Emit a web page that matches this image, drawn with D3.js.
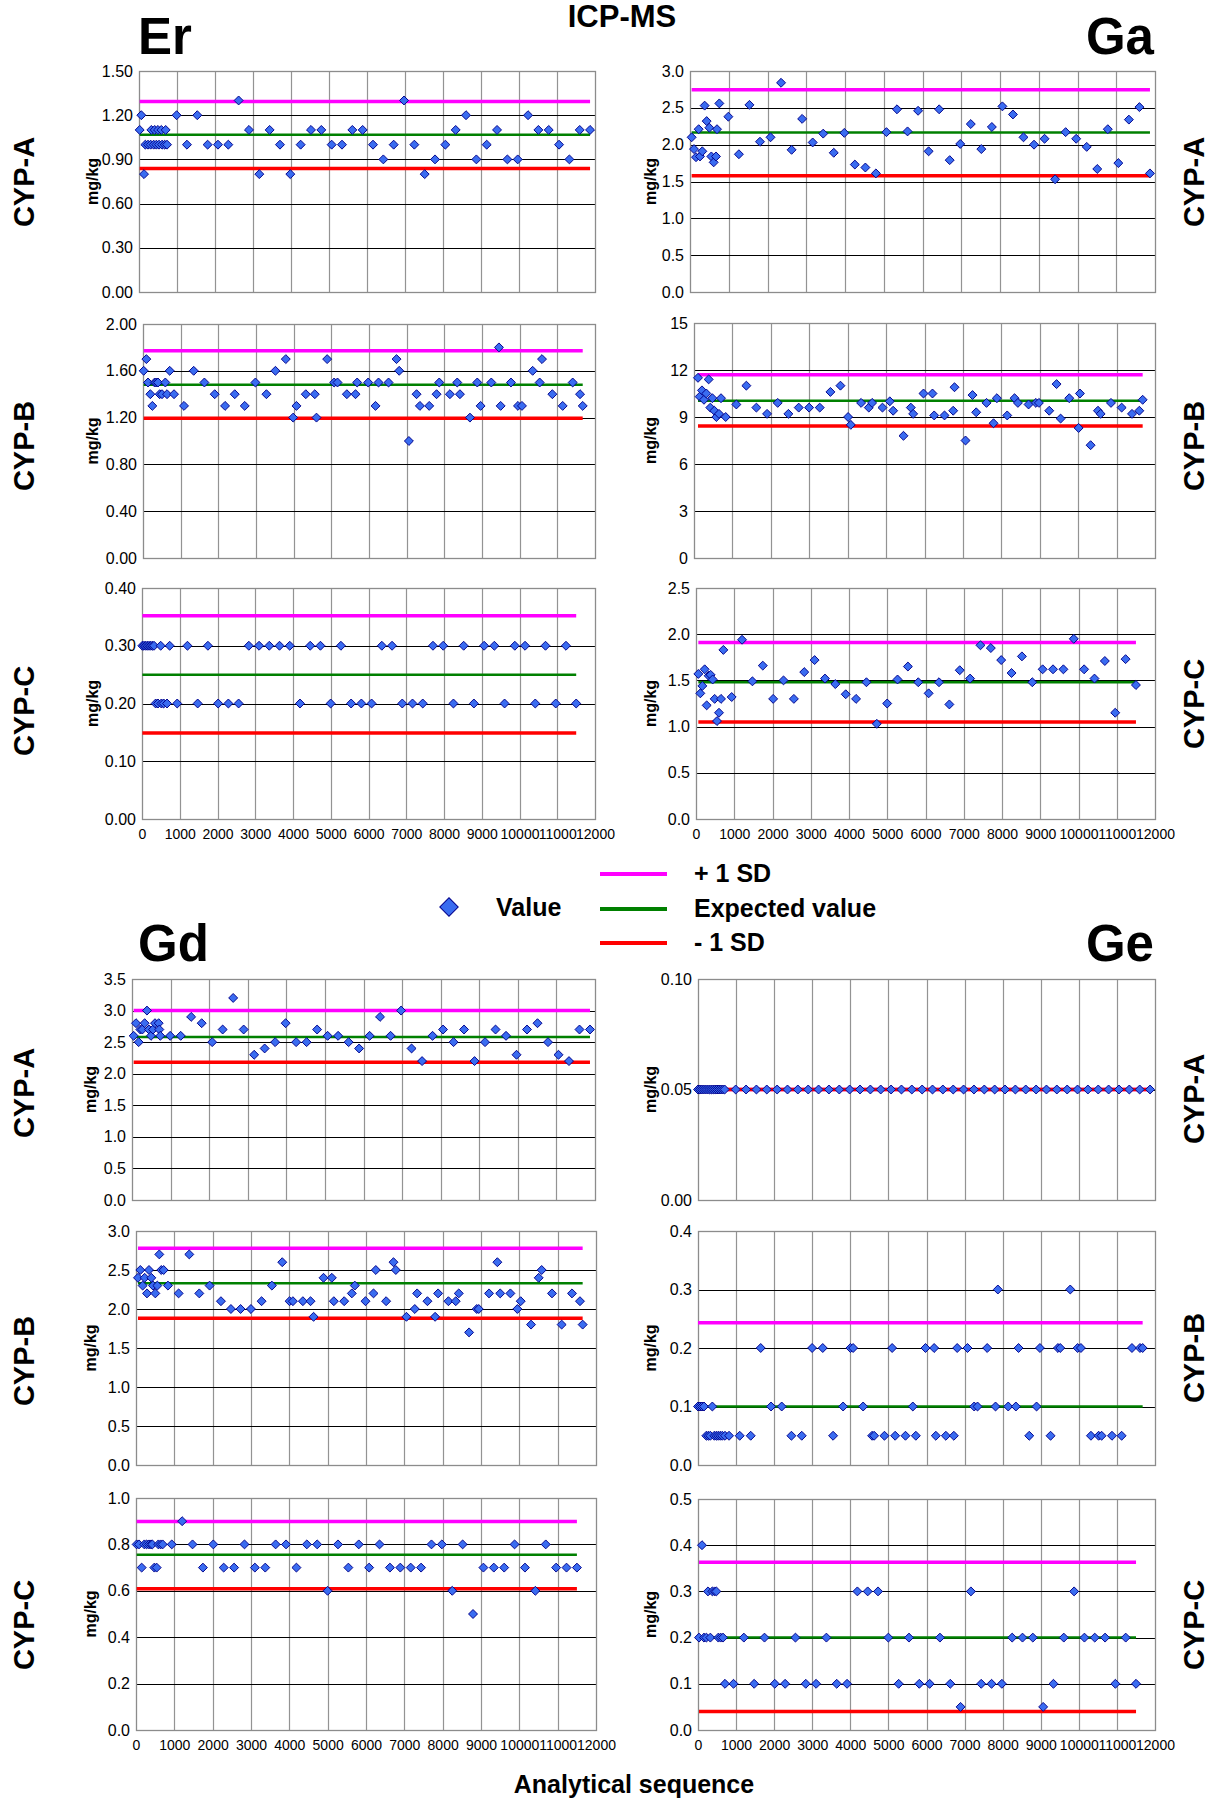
<!DOCTYPE html>
<html><head><meta charset="utf-8">
<script src="https://cdn.jsdelivr.net/npm/d3@7"></script>
<style>
body{margin:0;background:#fff}
svg{display:block}
text{font-family:"Liberation Sans",Arial,Helvetica,sans-serif}
</style>
</head><body>
<svg id="c" width="1223" height="1804"></svg>
<script>
// ---------------- DATA ----------------
const xTicks = [0,1000,2000,3000,4000,5000,6000,7000,8000,9000,10000,11000,12000];

// shared analytical sequence positions (regular runs)
const seqA = [990,1262,1534,1806,2078,2350,2622,2894,3166,3438,3710,3982,4254,4526,4798,5070,5342,5614,5886,6158,6430,6702,6974,7246,7518,7790,8062,8334,8606,8878,9150,9422,9694,9966,10238,10510,10782,11054,11326,11598,11870];
const seqC = [933,1204,1475,1746,2017,2288,2559,2830,3101,3372,3643,3914,4185,4456,4727,4998,5269,5540,5811,6082,6353,6624,6895,7166,7437,7708,7979,8250,8521,8792,9063,9334,9605,9876,10147,10418,10689,10960,11231,11502];

// ---- Er ----
const erA_cx = [18,61,132,167,237,307,386,457,527,606,676,737,325,413,500,588,702];
const erA_cy = [1.1,1.2,0.8,1.0,1.0,1.0,1.0,1.0,1.0,1.0,1.0,1.0,1.1,1.1,1.1,1.1,1.1];
const erA_y = [1.2,1.0,1.2,1.0,1.0,1.0,1.3,1.1,0.8,1.1,1.0,0.8,1.0,1.1,1.1,1.0,1.0,1.1,1.1,1.0,0.9,1.0,1.3,1.0,0.8,0.9,1.0,1.1,1.2,0.9,1.0,1.1,0.9,0.9,1.2,1.1,1.1,1.0,0.9,1.1,1.1];
const erA_sd = [1.293,1.067,0.839];
const erA_ticks = [0,0.3,0.6,0.9,1.2,1.5];

const erB_x = [18,89,133,195,248,310,354,399,443,505,593,638,709,824,1089,1346,1630,1904,2179,2436,2701,2985,3277,3516,3791,3986,4074,4322,4561,4606,4889,5075,5164,5412,5642,5686,5978,6173,6253,6519,6731,6802,7059,7263,7351,7599,7794,7865,8148,8343,8414,8680,8875,8963,9247,9450,9495,9769,9955,10061,10345,10531,10593,10868,11142,11408,11603,11674];
const erB_y = [1.6,1.7,1.5,1.4,1.3,1.5,1.5,1.5,1.4,1.4,1.5,1.4,1.6,1.4,1.3,1.6,1.5,1.4,1.3,1.4,1.3,1.5,1.4,1.6,1.7,1.2,1.3,1.4,1.4,1.2,1.7,1.5,1.5,1.4,1.4,1.5,1.5,1.3,1.5,1.5,1.7,1.6,1.0,1.4,1.3,1.3,1.4,1.5,1.4,1.5,1.4,1.2,1.5,1.3,1.5,1.8,1.3,1.5,1.3,1.3,1.6,1.5,1.7,1.4,1.3,1.5,1.4,1.3];
const erB_sd = [1.772,1.481,1.194];
const erB_ticks = [0,0.4,0.8,1.2,1.6,2.0];

const erC_cx = [9,53,97,141,186,230,274,318,495,733,362,424,513,574,663];
const erC_cy = [0.3,0.3,0.3,0.3,0.3,0.3,0.3,0.3,0.3,0.3,0.2,0.2,0.2,0.2,0.2];
const erC_y = [0.2,0.3,0.2,0.3,0.2,0.2,0.2,0.3,0.3,0.3,0.3,0.3,0.2,0.3,0.3,0.2,0.3,0.2,0.2,0.2,0.3,0.3,0.2,0.2,0.2,0.3,0.3,0.2,0.3,0.2,0.3,0.3,0.2,0.3,0.3,0.2,0.3,0.2,0.3,0.2];
const erC_sd = [0.352,0.25,0.149];
const erC_ticks = [0,0.1,0.2,0.3,0.4];

// ---- Ga ----
const gaA_cx = [43,103,155,224,258,318,378,430,499,551,611,671,697,757];
const gaA_cy = [2.10,1.94,1.83,2.21,1.84,1.91,2.53,2.32,2.23,1.84,1.76,1.84,2.21,2.56];
const gaA_y = [2.38,1.87,2.54,2.04,2.10,2.84,1.93,2.35,2.03,2.15,1.89,2.16,1.73,1.69,1.61,2.17,2.48,2.18,2.46,1.91,2.48,1.79,2.01,2.28,1.94,2.24,2.52,2.41,2.10,2.00,2.08,1.53,2.17,2.08,1.97,1.67,2.21,1.75,2.34,2.51,1.61];
const gaA_sd = [2.747,2.165,1.579];
const gaA_ticks = [0,0.5,1.0,1.5,2.0,2.5,3.0];

const gaB_x = [104,148,208,260,321,382,425,478,530,582,651,703,825,1103,1363,1624,1902,2179,2457,2726,2996,3273,3551,3812,4011,4081,4350,4550,4637,4906,5097,5184,5453,5644,5705,5974,6208,6252,6521,6747,6781,7068,7250,7346,7615,7797,7884,8153,8344,8431,8709,8900,8978,9247,9438,9543,9768,10012,10046,10324,10515,10585,10854,11132,11401,11592,11679];
const gaB_y = [11.5,10.3,10.7,10.1,10.5,11.4,9.6,10.2,9.4,9.0,9.2,10.2,9.0,9.8,11.0,9.6,9.2,9.9,9.2,9.6,9.6,9.6,10.6,11.0,9.0,8.5,9.9,9.6,9.9,9.6,10.0,9.4,7.8,9.6,9.2,10.5,10.5,9.1,9.1,9.4,10.9,7.5,10.4,9.3,9.9,8.6,10.2,9.1,10.2,9.9,9.8,9.9,9.9,9.4,11.1,8.9,10.2,8.3,10.5,7.2,9.4,9.2,9.9,9.6,9.2,9.4,10.1];
const gaB_sd = [11.69,10.03,8.43];
const gaB_ticks = [0,3,6,9,12,15];

const gaC_cx = [61,113,166,227,279,331,383,436,488,549,601,654,715];
const gaC_cy = [1.57,1.36,1.44,1.62,1.23,1.55,1.56,1.51,1.30,1.06,1.15,1.30,1.83];
const gaC_y = [1.32,1.94,1.49,1.66,1.30,1.50,1.30,1.59,1.72,1.52,1.46,1.35,1.30,1.48,1.03,1.25,1.51,1.65,1.48,1.36,1.48,1.24,1.61,1.52,1.88,1.85,1.72,1.58,1.76,1.48,1.62,1.62,1.62,1.95,1.62,1.52,1.71,1.15,1.73,1.45];
const gaC_sd = [1.91,1.48,1.05];
const gaC_ticks = [0,0.5,1.0,1.5,2.0,2.5];

// ---- Gd ----
const gdA_cx = [43,104,173,216,268,328,388,440,492,544,596,691,708,734];
const gdA_cy = [2.6,2.8,2.5,2.7,2.7,2.8,3.0,2.7,2.6,2.7,2.8,2.8,2.7,2.6];
const gdA_y = [2.6,2.6,2.9,2.8,2.5,2.7,3.2,2.7,2.3,2.4,2.5,2.8,2.5,2.5,2.7,2.6,2.6,2.5,2.4,2.6,2.9,2.6,3.0,2.4,2.2,2.6,2.7,2.5,2.7,2.2,2.5,2.7,2.6,2.3,2.7,2.8,2.5,2.3,2.2,2.7,2.7];
const gdA_sd = [3.0,2.58,2.18];
const gdA_ticks = [0,0.5,1.0,1.5,2.0,2.5,3.0,3.5];

const gdB_x = [52,113,174,226,287,339,400,443,504,556,608,660,721,834,1112,1390,1651,1920,2216,2476,2728,2998,3276,3545,3815,4006,4093,4353,4553,4632,4892,5109,5161,5431,5630,5708,5987,6196,6256,6525,6717,6778,7055,7273,7334,7603,7803,7881,8150,8341,8420,8689,8889,8941,9210,9427,9501,9767,9949,10036,10305,10505,10583,10852,11104,11374,11582,11652];
const gdB_y = [2.4,2.5,2.3,2.4,2.2,2.5,2.4,2.3,2.2,2.3,2.7,2.5,2.5,2.3,2.2,2.7,2.2,2.3,2.1,2.0,2.0,2.0,2.1,2.3,2.6,2.1,2.1,2.1,2.1,1.9,2.4,2.4,2.1,2.1,2.2,2.3,2.1,2.2,2.5,2.1,2.6,2.5,1.9,2.0,2.2,2.1,1.9,2.2,2.1,2.1,2.2,1.7,2.0,2.0,2.2,2.6,2.2,2.2,2.0,2.1,1.8,2.4,2.5,2.2,1.8,2.2,2.1,1.8];
const gdB_sd = [2.78,2.33,1.88];
const gdB_ticks = [0,0.5,1.0,1.5,2.0,2.5,3.0];

const gdC_cx = [17,78,148,217,278,339,391,426,478,539,583,643,696];
const gdC_cy = [0.8,0.8,0.7,0.8,0.8,0.8,0.8,0.8,0.7,0.7,0.8,0.8,0.8];
const gdC_y = [0.8,0.9,0.8,0.7,0.8,0.7,0.7,0.8,0.7,0.7,0.8,0.8,0.7,0.8,0.8,0.6,0.8,0.7,0.8,0.7,0.8,0.7,0.7,0.7,0.7,0.8,0.8,0.6,0.8,0.5,0.7,0.7,0.7,0.8,0.7,0.6,0.8,0.7,0.7,0.7];
const gdC_sd = [0.899,0.755,0.609];
const gdC_ticks = [0,0.2,0.4,0.6,0.8,1.0];

// ---- Ge ----
const geA_cx = [0,50,100,150,200,250,300,350,400,450,500,550,600,650,700];
const geA_cy = [0.05,0.05,0.05,0.05,0.05,0.05,0.05,0.05,0.05,0.05,0.05,0.05,0.05,0.05,0.05];
const geA_y = [0.05,0.05,0.05,0.05,0.05,0.05,0.05,0.05,0.05,0.05,0.05,0.05,0.05,0.05,0.05,0.05,0.05,0.05,0.05,0.05,0.05,0.05,0.05,0.05,0.05,0.05,0.05,0.05,0.05,0.05,0.05,0.05,0.05,0.05,0.05,0.05,0.05,0.05,0.05,0.05,0.05];
const geA_sd = [0.05,0.05,0.05];
const geA_ticks = [0,0.05,0.1];

const geB_x = [0,53,105,158,219,272,324,377,429,482,534,587,639,709,815,1095,1384,1647,1918,2198,2453,2724,2996,3276,3547,3810,4003,4073,4336,4572,4625,4896,5098,5177,5448,5641,5720,5974,6201,6245,6508,6718,6806,7077,7252,7340,7594,7813,7874,8146,8347,8417,8698,8890,8978,9258,9451,9512,9775,9968,10055,10318,10520,10598,10870,11124,11395,11606,11676];
const geB_y = [0.1,0.1,0.1,0.1,0.05,0.05,0.05,0.1,0.05,0.05,0.05,0.05,0.05,0.05,0.05,0.05,0.05,0.2,0.1,0.1,0.05,0.05,0.2,0.2,0.05,0.1,0.2,0.2,0.1,0.05,0.05,0.05,0.2,0.05,0.05,0.1,0.05,0.2,0.2,0.05,0.05,0.05,0.2,0.2,0.1,0.1,0.2,0.1,0.3,0.1,0.1,0.2,0.05,0.1,0.2,0.05,0.2,0.2,0.3,0.2,0.2,0.05,0.05,0.05,0.05,0.05,0.2,0.2,0.2];
const geB_sd = [0.243,0.10,-0.043];
const geB_ticks = [0,0.1,0.2,0.3,0.4];

const geC_cx = [26,105,158,219,263,324,377,438,482,534,596,657,709];
const geC_cy = [0.2,0.4,0.2,0.2,0.3,0.2,0.3,0.3,0.3,0.2,0.2,0.2,0.1];
const geC_y = [0.1,0.2,0.1,0.2,0.1,0.1,0.2,0.1,0.1,0.2,0.1,0.1,0.3,0.3,0.3,0.2,0.1,0.2,0.1,0.1,0.2,0.1,0.05,0.3,0.1,0.1,0.1,0.2,0.2,0.2,0.05,0.1,0.2,0.3,0.2,0.2,0.2,0.1,0.2,0.1];
const geC_sd = [0.363,0.2,0.04];
const geC_ticks = [0,0.1,0.2,0.3,0.4,0.5];

const rowLabels = ["CYP-A","CYP-B","CYP-C"];
const elements = ["Er","Ga","Gd","Ge"];
const legendLabels = ["+ 1 SD","Expected value","- 1 SD"];

// ---------------- PANELS ----------------
const panels = [
  {x: erA_cx.concat(seqA), y: erA_cy.concat(erA_y), sd: erA_sd, ticks: erA_ticks, fmt: ".2f", rect:[139,71,595,292], side:"L"},
  {x: erB_x, y: erB_y, sd: erB_sd, ticks: erB_ticks, fmt: ".2f", rect:[143,324,595,558], side:"L"},
  {x: erC_cx.concat(seqC), y: erC_cy.concat(erC_y), sd: erC_sd, ticks: erC_ticks, fmt: ".2f", rect:[142,588,595,819], side:"L", xaxis:true},
  {x: gaA_cx.concat(seqA), y: gaA_cy.concat(gaA_y), sd: gaA_sd, ticks: gaA_ticks, fmt: ".1f", rect:[690,71,1155,292], side:"R"},
  {x: gaB_x, y: gaB_y, sd: gaB_sd, ticks: gaB_ticks, fmt: "d", rect:[694,323,1155,558], side:"R"},
  {x: gaC_cx.concat(seqC), y: gaC_cy.concat(gaC_y), sd: gaC_sd, ticks: gaC_ticks, fmt: ".1f", rect:[696,588,1155,819], side:"R", xaxis:true},
  {x: gdA_cx.concat(seqA), y: gdA_cy.concat(gdA_y), sd: gdA_sd, ticks: gdA_ticks, fmt: ".1f", rect:[132,979,595,1200], side:"L"},
  {x: gdB_x, y: gdB_y, sd: gdB_sd, ticks: gdB_ticks, fmt: ".1f", rect:[136,1231,596,1465], side:"L"},
  {x: gdC_cx.concat(seqC), y: gdC_cy.concat(gdC_y), sd: gdC_sd, ticks: gdC_ticks, fmt: ".1f", rect:[136,1498,596,1730], side:"L", xaxis:true},
  {x: geA_cx.concat(seqA), y: geA_cy.concat(geA_y), sd: geA_sd, ticks: geA_ticks, fmt: ".2f", rect:[698,979,1155,1200], side:"R"},
  {x: geB_x, y: geB_y, sd: geB_sd, ticks: geB_ticks, fmt: ".1f", rect:[698,1231,1155,1465], side:"R"},
  {x: geC_cx.concat(seqC), y: geC_cy.concat(geC_y), sd: geC_sd, ticks: geC_ticks, fmt: ".1f", rect:[698,1499,1155,1730], side:"R", xaxis:true}
];
const rowLabelY = [182,446,711,182,446,704,1093,1361,1625,1099,1358,1625];

const svg = d3.select("#c");
svg.append("rect").attr("width",1223).attr("height",1804).attr("fill","#fff");

const sdColors = ["#ff00ff","#008000","#ff0000"];
const sdWidths = [3.5,2.5,3.5];

panels.forEach((p, i) => {
  const [x0,y0,x1,y1] = p.rect;
  const xs = d3.scaleLinear().domain([0,12000]).range([x0,x1]);
  const ys = d3.scaleLinear().domain([p.ticks[0], p.ticks[p.ticks.length-1]]).range([y1,y0]);
  const g = svg.append("g");
  const clipId = "clip"+i;
  svg.append("clipPath").attr("id",clipId).append("rect").attr("x",x0).attr("y",y0).attr("width",x1-x0).attr("height",y1-y0);

  // vertical grid
  g.selectAll("line.v").data(xTicks.slice(1,-1)).join("line")
    .attr("x1",d=>Math.round(xs(d))+0.5).attr("x2",d=>Math.round(xs(d))+0.5)
    .attr("y1",y0).attr("y2",y1).attr("stroke","#939393").attr("stroke-width",1.2);
  // horizontal grid
  g.selectAll("line.h").data(p.ticks.slice(1,-1)).join("line")
    .attr("x1",x0).attr("x2",x1)
    .attr("y1",d=>Math.round(ys(d))+0.5).attr("y2",d=>Math.round(ys(d))+0.5)
    .attr("stroke","#000").attr("stroke-width",1);
  // border
  g.append("rect").attr("x",x0+0.5).attr("y",y0+0.5).attr("width",x1-x0).attr("height",y1-y0)
    .attr("fill","none").attr("stroke","#8c8c8c").attr("stroke-width",1.3);

  // y axis
  const ya = d3.axisLeft(ys).tickValues(p.ticks).tickSize(0).tickPadding(6).tickFormat(d3.format(p.fmt));
  const yg = g.append("g").attr("transform",`translate(${x0},0)`).call(ya);
  yg.select(".domain").remove();
  yg.selectAll("text").attr("font-size",16).attr("fill","#000").attr("font-family","Liberation Sans, Arial, sans-serif");

  if (p.xaxis) {
    const xa = d3.axisBottom(xs).tickValues(xTicks).tickSize(0).tickPadding(10).tickFormat(d3.format("d"));
    const xg = g.append("g").attr("transform",`translate(0,${y1})`).call(xa);
    xg.select(".domain").remove();
    xg.selectAll("text").attr("font-size",14).attr("fill","#000").attr("font-family","Liberation Sans, Arial, sans-serif");
  }

  // SD lines from first to last sample
  const xmin = d3.min(p.x), xmax = d3.max(p.x);
  const lg = g.append("g").attr("clip-path",`url(#${clipId})`);
  p.sd.forEach((v,k) => {
    lg.append("line").attr("x1",xs(xmin)).attr("x2",xs(xmax))
      .attr("y1",ys(v)).attr("y2",ys(v))
      .attr("stroke",sdColors[k]).attr("stroke-width",sdWidths[k]);
  });

  // points
  const pts = p.x.map((d,j)=>[d,p.y[j]]);
  const sym = d3.symbol().type(d3.symbolSquare).size(40);
  g.append("g").selectAll("path").data(pts).join("path")
    .attr("d",sym)
    .attr("transform",d=>`translate(${xs(d[0])},${ys(d[1])}) rotate(45)`)
    .attr("fill","#3a6cf0").attr("stroke","#00008b").attr("stroke-width",0.9);

  // mg/kg
  const lx = p.side==="L" ? (i<3 ? 92 : 90) : 650;
  svg.append("text").attr("transform",`translate(${lx},${(y0+y1)/2}) rotate(-90)`)
    .attr("text-anchor","middle").attr("dy","0.35em")
    .attr("font-size",16).attr("font-weight","bold").text("mg/kg");

  // row label
  const rx = p.side==="L" ? 24 : 1194;
  svg.append("text").attr("transform",`translate(${rx},${rowLabelY[i]}) rotate(-90)`)
    .attr("text-anchor","middle").attr("dy","0.36em")
    .attr("font-size",29).attr("font-weight","bold").text(rowLabels[i%3]);
});

// element titles
const titlePos = [[138,54,"start"],[1154,54,"end"],[138,961,"start"],[1154,961,"end"]];
elements.forEach((e,k)=>{
  svg.append("text").attr("x",titlePos[k][0]).attr("y",titlePos[k][1])
    .attr("text-anchor",titlePos[k][2]).attr("font-size",51).attr("font-weight","bold").text(e);
});

// top title
svg.append("text").attr("x",622).attr("y",27).attr("text-anchor","middle")
  .attr("font-size",31).attr("font-weight","bold").text("ICP-MS");

// legend
const leg = svg.append("g");
leg.append("path").attr("d",d3.symbol().type(d3.symbolSquare).size(170))
  .attr("transform","translate(449,907) rotate(45)")
  .attr("fill","#3a6cf0").attr("stroke","#00008b").attr("stroke-width",1);
leg.append("text").attr("x",496).attr("y",916).attr("font-size",25).attr("font-weight","bold").text("Value");
const legY = [874,909,943];
legendLabels.forEach((t,k)=>{
  leg.append("line").attr("x1",600).attr("x2",667).attr("y1",legY[k]).attr("y2",legY[k])
    .attr("stroke",sdColors[k]).attr("stroke-width",4);
  leg.append("text").attr("x",694).attr("y",legY[k]+8).attr("font-size",25).attr("font-weight","bold").text(t);
});

// x axis title
svg.append("text").attr("x",634).attr("y",1793).attr("text-anchor","middle")
  .attr("font-size",25).attr("font-weight","bold").text("Analytical sequence");
</script>
</body></html>
